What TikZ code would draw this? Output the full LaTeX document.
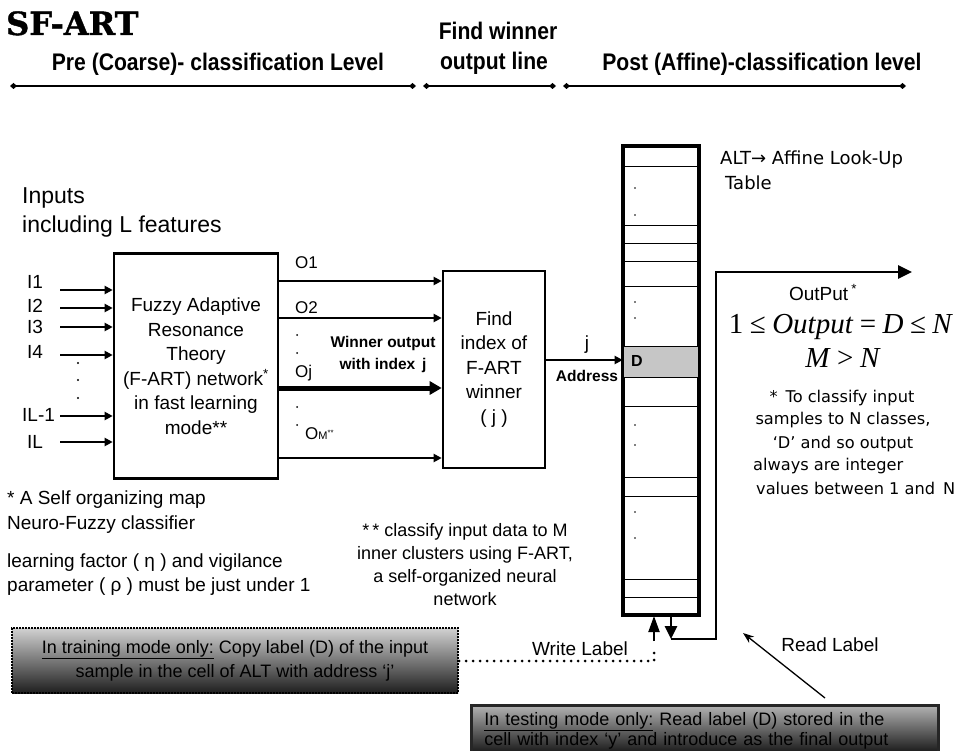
\documentclass[tikz,border=0pt]{standalone}
\usepackage{fontspec}
\setmainfont{Liberation Sans}
\newfontfamily\narrowfont[FakeStretch=0.88]{Liberation Sans}
\newfontfamily\titlefont{DejaVu Serif}[BoldFeatures={FakeBold=1.2}]
\newfontfamily\notefont{DejaVu Sans}
\newfontfamily\mathfont{Liberation Serif}
\usetikzlibrary{arrows.meta,positioning}

\begin{document}
\begin{tikzpicture}[x=1pt,y=-1pt,
    blk/.style={draw, line width=2.6pt, inner sep=0pt, align=center,
      font=\fontsize{19}{24.5}\selectfont},
    lbl/.style={font=\fontsize{19}{24}\selectfont, inner sep=0pt},
    bld/.style={font=\bfseries\fontsize{15.5}{22}\selectfont, inner sep=0pt},
    hdr/.style={font=\narrowfont\bfseries\fontsize{24}{28}\selectfont, inner sep=0pt},
    note/.style={font=\notefont\fontsize{16.2}{22}\selectfont, inner sep=0pt},
    arr/.style={line width=2.4pt, -{Triangle[length=8pt,width=8pt]}},
    dots/.style={line width=3pt, dash pattern=on 0pt off 7pt, line cap=round}]
  \clip (0,0) rectangle (963,751);
  \fill[white] (0,0) rectangle (963,751);

  % Title and the three levels
  \node[font=\titlefont\bfseries\fontsize{32}{32}\selectfont, inner sep=0pt, anchor=base west] (title) at (6,35) {SF-ART};
  \node[hdr, anchor=base] (pre) at (218,71) {Pre (Coarse)- classification Level};
  \node[hdr, anchor=base] (find1) at (498,40) {Find winner};
  \node[hdr, anchor=base] (find2) at (494,70) {output line};
  \node[hdr, anchor=base] (post) at (762,71) {Post (Affine)-classification level};
  \foreach \a/\b in {10/416, 423/556, 563/906} {
    \draw[line width=1.6pt, {Diamond[length=7pt,width=6pt]}-{Diamond[length=7pt,width=6pt]}] (\a,86) -- (\b,86);
  }

  % Inputs and the F-ART network
  \node[lbl, font=\fontsize{23}{30}\selectfont, anchor=base west] (inputs) at (22,204) {Inputs};
  \node[lbl, font=\fontsize{23}{30}\selectfont, anchor=base west] (incl) at (22,233) {including L features};
  \node[blk, minimum width=164, minimum height=225] (fart) at (196,366)
    {Fuzzy Adaptive\\Resonance\\Theory\\(F-ART) network\textsuperscript{*}\\in fast learning\\mode**};
  \foreach \i/\t/\x/\ty/\y in {1/I1/27/282/290, 2/I2/27/306/308, 3/I3/27/327/327,
      4/I4/27/352/355, 5/IL-1/22/415/416, 6/IL/27/442/442} {
    \coordinate (in\i) at (60,\y);
    \node[lbl, anchor=west] (il\i) at (\x,\ty) {\t};
    \draw[arr] (in\i) -- (in\i -| fart.west);
  }
  \foreach \y in {363,380,398} \fill (78,\y) circle (1.2);

  % F-ART outputs
  \node[blk, minimum width=102, minimum height=197] (find) at (494,369.5)
    {Find\\index of\\F-ART\\winner\\( j )};
  \foreach \n/\y in {o1/281, o2/318, om/458} {
    \coordinate (\n) at (0,\y);
    \draw[arr] (fart.east |- \n) -- (find.west |- \n);
  }
  \coordinate (oj) at (0,388);
  \draw[line width=5pt, -{Triangle[length=12pt,width=13pt]}] (fart.east |- oj) -- (find.west |- oj);
  \node[lbl, font=\fontsize{17}{20}\selectfont, anchor=west] (lo1) at (295,263) {O1};
  \node[lbl, font=\fontsize{17}{20}\selectfont, anchor=west] (lo2) at (295,308) {O2};
  \node[lbl, font=\fontsize{17}{20}\selectfont, anchor=west] (loj) at (295,373) {Oj};
  \node[lbl, font=\fontsize{17}{20}\selectfont, anchor=west] (lom) at (305,434)
    {O{\fontsize{11}{11}\selectfont M\textsuperscript{**}}};
  \foreach \y in {335,353,407,425} \fill (297,\y) circle (1);
  \node[bld, align=center] (winner) at (383,354) {Winner output\\with index\, j};

  % Address into the look-up table
  \node[draw, line width=2.6pt, inner sep=0pt, minimum width=74, minimum height=467] (alt) at (661,380.5) {};
  \fill[gray!45] (624,346) rectangle (698,377);
  \foreach \y in {166,225,243,261,286,346,377,406,477,496,579,597}
    \draw[line width=0.9pt] (624,\y) -- (698,\y);
  \foreach \y in {188,215,302,318,425,445,512,538} \fill (635,\y) circle (0.8);
  \draw[line width=2.6pt] (alt.north west) rectangle (alt.south east);
  \node[bld, font=\bfseries\fontsize{16}{16}\selectfont, anchor=west] (dcell) at (631,361) {D};
  \coordinate (addr) at (0,360);
  \draw[arr] (find.east |- addr) -- (alt.west |- addr);
  \node[lbl, anchor=base] (jlbl) at (587,349) {j};
  \node[bld, anchor=base] (address) at (587,381) {Address};

  % ALT notes and output
  \node[note, font=\notefont\fontsize{18}{22}\selectfont, anchor=base west] (altnote) at (720,165) {ALT→ Affine Look-Up};
  \node[note, font=\notefont\fontsize{18}{22}\selectfont, anchor=base west] (table) at (725,190) {Table};
  \coordinate (rdtop) at (671,615);
  \coordinate (rdbot) at (671,639);
  \coordinate (outend) at (912,272);
  \draw[line width=2.6pt, -{Triangle[length=13pt,width=12pt]}] (rdtop) -- (rdbot);
  \draw[line width=2.6pt, -{Triangle[length=14pt,width=13pt]}] (rdbot) -- (716,639) |- (outend);
  \node[lbl, anchor=base] (outlbl) at (823,300) {OutPut\,\textsuperscript{*}};
  \node[inner sep=0pt, font=\mathfont\fontsize{29}{29}\selectfont, anchor=base] (outeq) at (841,333)
    {1\:≤\:\textit{Output}\:=\:\textit{D}\:≤\:\textit{N}};
  \node[inner sep=0pt, font=\mathfont\fontsize{29}{29}\selectfont, anchor=base] (mn) at (843,367)
    {\textit{M}\:>\:\textit{N}};
  \node[note, anchor=base] (cl1) at (842,402) {*\, To classify input};
  \node[note, anchor=base] (cl2) at (843,424) {samples to N classes,};
  \node[note, anchor=base] (cl3) at (843,448) {‘D’ and so output};
  \node[note, anchor=base west] (cl4) at (753,470) {always are integer};
  \node[note, anchor=base west] (cl5) at (756,494) {values between 1 and\, N};

  % Footnotes
  \node[lbl, anchor=base west] (fn1) at (7,504) {* A Self organizing map};
  \node[lbl, anchor=base west] (fn2) at (7,529) {Neuro-Fuzzy classifier};
  \node[lbl, anchor=base west] (fn3) at (7,567) {learning factor ( η ) and vigilance};
  \node[lbl, anchor=base west] (fn4) at (7,591) {parameter ( ρ ) must be just under 1};
  \node[lbl, font=\fontsize{18}{23}\selectfont, anchor=base] (fs1) at (465,536) {*\,* classify input data to M};
  \node[lbl, font=\fontsize{18}{23}\selectfont, anchor=base] (fs2) at (465,559) {inner clusters using F-ART,};
  \node[lbl, font=\fontsize{18}{23}\selectfont, anchor=base] (fs3) at (465,582) {a self-organized neural};
  \node[lbl, font=\fontsize{18}{23}\selectfont, anchor=base] (fs4) at (465,605) {network};

  % Training and testing modes
  \node[draw, densely dotted, line width=2pt, top color=black!18, bottom color=black!88,
    minimum width=446, minimum height=65, inner sep=0pt, align=center,
    font=\fontsize{18}{24}\selectfont] (train) at (235,660.5)
    {\underline{In training mode only:} Copy label (D) of the input\\sample in the cell of ALT with address ‘j’};
  \coordinate (wrpt) at (654,661);
  \coordinate (wrtop) at (654,616);
  \draw[dots] (train.east |- wrpt) -- (wrpt) -- (654,646);
  \draw[line width=2pt, -{Triangle[length=16pt,width=11pt]}] (654,641) -- (wrtop);
  \node[lbl, anchor=base] (write) at (580,655) {Write Label};
  \node[draw=black!85, line width=2.5pt, top color=black!30, bottom color=black!95,
    minimum width=467, inner xsep=13pt, inner ysep=7pt, anchor=north west, text width=441, align=left,
    font=\fontsize{18}{20.5}\selectfont] (test) at (470,704)
    {\underline{In testing mode only:} Read label (D) stored in the\\cell with index ‘y’ and introduce as the final output};
  \coordinate (rdfrom) at (825,698);
  \coordinate (rdto) at (743,633);
  \draw[line width=1.3pt, -{Stealth[length=11pt,width=8pt]}] (rdfrom) -- (rdto);
  \node[lbl, anchor=base] (read) at (830,651) {Read Label};
\end{tikzpicture}
\end{document}
